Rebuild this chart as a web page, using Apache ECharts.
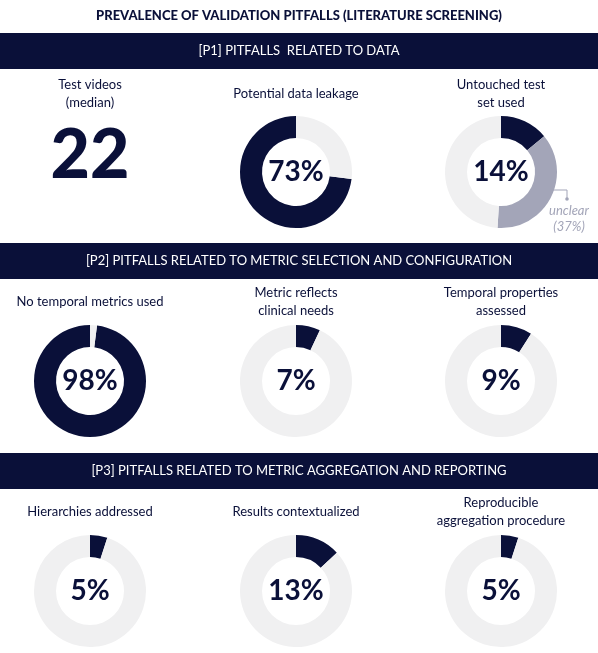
<!DOCTYPE html>
<html>
<head>
<meta charset="utf-8">
<script src="https://cdn.jsdelivr.net/npm/echarts@6/dist/echarts.min.js"></script>
<style>
html,body{margin:0;padding:0;background:#fff;}
#chart{width:598px;height:653px;}
</style>
</head>
<body>
<div id="chart"></div>
<script>
// ---- data ----
const mainTitle = 'PREVALENCE OF VALIDATION PITFALLS (LITERATURE SCREENING)';
const sectionTitles = [
  '[P1] PITFALLS  RELATED TO DATA',
  '[P2] PITFALLS RELATED TO METRIC SELECTION AND CONFIGURATION',
  '[P3] PITFALLS RELATED TO METRIC AGGREGATION AND REPORTING'
];
const medianLabel = ['Test videos', '(median)'];
const medianTestVideos = 22;
const donutLabels = [
  ['Potential data leakage'],
  ['Untouched test', 'set used'],
  ['No temporal metrics used'],
  ['Metric reflects', 'clinical needs'],
  ['Temporal properties', 'assessed'],
  ['Hierarchies addressed'],
  ['Results contextualized'],
  ['Reproducible', 'aggregation procedure']
];
const donutValues = [73, 14, 98, 7, 9, 5, 13, 5];
const unclearValues = [0, 37, 0, 0, 0, 0, 0, 0];
const unclearText = ['unclear', '(37%)'];

// ---- layout / style ----
const DARK = '#0a1039';
const LIGHT = '#f0f0f1';
const MID = '#a3a5b8';
const FONT = 'Lato';
const colX = [90, 296, 501];
const rowY = [172, 381, 591];
const bannerY = [33, 243, 453];
const bannerH = 36;
const slots = [
  [1, 0], [2, 0], [0, 1], [1, 1], [2, 1], [0, 2], [1, 2], [2, 2]
];
const labelY1 = [94, 302, 512];
const lineGap = 18;
const ccw = [true, false, true, false, false, false, false, false];

const chart = echarts.init(document.getElementById('chart'));

const graphics = [];
graphics.push({
  type: 'text', left: 'center', top: 9,
  style: { text: mainTitle, font: '900 13px ' + FONT, fill: DARK }
});
sectionTitles.forEach((t, i) => {
  graphics.push({
    type: 'rect', shape: { x: 0, y: bannerY[i], width: 598, height: bannerH },
    style: { fill: DARK }
  });
  graphics.push({
    type: 'text', x: 299, y: bannerY[i] + bannerH / 2,
    style: { text: t, font: '13px ' + FONT, fill: '#ffffff', align: 'center', verticalAlign: 'middle' }
  });
});
function addLabel(lines, cx, row) {
  const n = lines.length;
  lines.forEach((ln, k) => {
    const y = labelY1[row] + (k - (n - 1) / 2) * lineGap;
    graphics.push({
      type: 'text', x: cx, y: y,
      style: { text: ln, font: '13px ' + FONT, fill: DARK, align: 'center', verticalAlign: 'middle' }
    });
  });
}
addLabel(medianLabel, colX[0], 0);
graphics.push({
  type: 'text', x: colX[0], y: 156,
  style: { text: String(medianTestVideos), font: '900 68px ' + FONT, fill: DARK, align: 'center', verticalAlign: 'middle' }
});
donutLabels.forEach((lines, i) => addLabel(lines, colX[slots[i][0]], slots[i][1]));

graphics.push({
  type: 'polyline', shape: { points: [[553, 190], [567, 190], [567, 199]] },
  style: { stroke: MID, lineWidth: 1, fill: null }
});
graphics.push({ type: 'circle', shape: { cx: 567, cy: 199, r: 1.8 }, style: { fill: MID } });
unclearText.forEach((t, k) => {
  graphics.push({
    type: 'text', x: 569, y: 211 + k * 16,
    style: { text: t, font: 'italic 13px ' + FONT, fill: MID, align: 'center', verticalAlign: 'middle' }
  });
});

const series = donutValues.map((v, i) => {
  const u = unclearValues[i];
  const data = [{ value: v, itemStyle: { color: DARK } }];
  if (u) data.push({ value: u, itemStyle: { color: MID } });
  data.push({ value: 100 - v - u, itemStyle: { color: LIGHT } });
  return {
    type: 'pie',
    center: [colX[slots[i][0]], rowY[slots[i][1]]],
    radius: [34, 56],
    startAngle: 90,
    clockwise: !ccw[i],
    silent: true,
    animation: false,
    label: {
      show: true, position: 'center', formatter: () => v + '%',
      fontFamily: FONT, fontSize: 28, color: DARK, fontWeight: 'bold'
    },
    labelLine: { show: false },
    emphasis: { disabled: true },
    data: data.map((d, k) => Object.assign(d, { label: { show: k === 0 } }))
  };
});

chart.setOption({
  animation: false,
  graphic: graphics,
  series: series
});
</script>
</body>
</html>
